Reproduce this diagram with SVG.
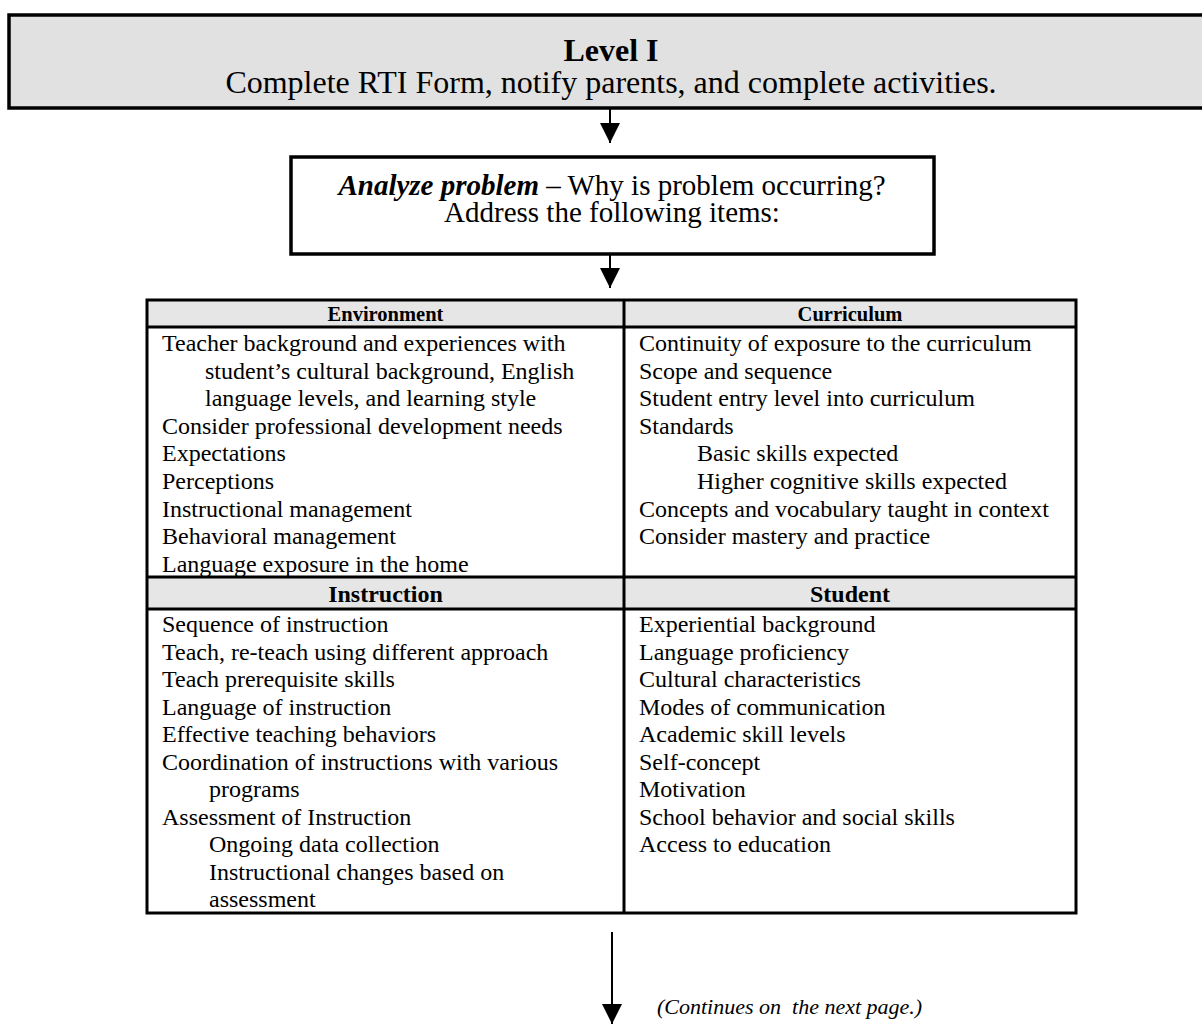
<svg xmlns="http://www.w3.org/2000/svg" width="1202" height="1024" viewBox="0 0 1202 1024">
  <style>
    text { font-family: "Liberation Serif", "Times New Roman", serif; fill: #000; }
    .big { font-size: 32px; }
    .mid { font-size: 29px; }
    .item { font-size: 24px; }
    .hd1 { font-size: 20.5px; font-weight: bold; }
    .hd2 { font-size: 24px; font-weight: bold; }
    .box { stroke: #000; stroke-width: 3.5; }
    .grid { stroke: #000; stroke-width: 3; fill: none; }
    .shade { fill: #e6e6e6; }
    .wire { stroke: #000; stroke-width: 2; fill: none; }
    .note { font-size: 22px; font-style: italic; white-space: pre; }
  </style>
  <defs>
    <marker id="head" markerUnits="userSpaceOnUse" viewBox="0 0 20 20" refX="20" refY="10" markerWidth="20" markerHeight="20" orient="auto">
      <path d="M0,0 L20,10 L0,20 Z" fill="#000"/>
    </marker>
  </defs>
  <rect width="1202" height="1024" fill="#fff"/>

  <!-- Level I banner -->
  <g id="node-level1">
    <rect class="box" x="9" y="15" width="1210" height="93" fill="#e1e1e1"/>
    <text class="big" x="611" y="61" text-anchor="middle" font-weight="bold">Level I</text>
    <text class="big" x="611" y="93" text-anchor="middle">Complete RTI Form, notify parents, and complete activities.</text>
  </g>

  <!-- Analyze problem box -->
  <g id="node-analyze">
    <rect class="box" x="291" y="157" width="643" height="97" fill="#fff"/>
    <text class="mid" x="612" y="195" text-anchor="middle"><tspan font-weight="bold" font-style="italic">Analyze problem</tspan> – Why is problem occurring?</text>
    <text class="mid" x="612" y="222" text-anchor="middle">Address the following items:</text>
  </g>

  <!-- Four-part checklist table -->
  <g id="node-table">
    <rect class="shade" x="147" y="300" width="929" height="27"/>
    <rect class="shade" x="147" y="577" width="929" height="32"/>
    <rect class="grid" x="147" y="300" width="929" height="613"/>
    <line class="grid" x1="624" y1="300" x2="624" y2="913"/>
    <line class="grid" x1="147" y1="327" x2="1076" y2="327"/>
    <line class="grid" x1="147" y1="577" x2="1076" y2="577"/>
    <line class="grid" x1="147" y1="609" x2="1076" y2="609"/>

    <g id="cell-environment">
      <text class="hd1" x="385.5" y="321" text-anchor="middle">Environment</text>
      <text class="item" x="162" y="351">Teacher background and experiences with</text>
      <text class="item" x="205" y="378.6">student’s cultural background, English</text>
      <text class="item" x="205" y="406.2">language levels, and learning style</text>
      <text class="item" x="162" y="433.8">Consider professional development needs</text>
      <text class="item" x="162" y="461.4">Expectations</text>
      <text class="item" x="162" y="489">Perceptions</text>
      <text class="item" x="162" y="516.6">Instructional management</text>
      <text class="item" x="162" y="544.2">Behavioral management</text>
      <text class="item" x="162" y="571.8">Language exposure in the home</text>
    </g>

    <g id="cell-curriculum">
      <text class="hd1" x="850" y="321" text-anchor="middle">Curriculum</text>
      <text class="item" x="639" y="351">Continuity of exposure to the curriculum</text>
      <text class="item" x="639" y="378.6">Scope and sequence</text>
      <text class="item" x="639" y="406.2">Student entry level into curriculum</text>
      <text class="item" x="639" y="433.8">Standards</text>
      <text class="item" x="697" y="461.4">Basic skills expected</text>
      <text class="item" x="697" y="489">Higher cognitive skills expected</text>
      <text class="item" x="639" y="516.6">Concepts and vocabulary taught in context</text>
      <text class="item" x="639" y="544.2">Consider mastery and practice</text>
    </g>

    <g id="cell-instruction">
      <text class="hd2" x="385.5" y="602" text-anchor="middle">Instruction</text>
      <text class="item" x="162" y="632">Sequence of instruction</text>
      <text class="item" x="162" y="659.5">Teach, re-teach using different approach</text>
      <text class="item" x="162" y="687">Teach prerequisite skills</text>
      <text class="item" x="162" y="714.5">Language of instruction</text>
      <text class="item" x="162" y="742">Effective teaching behaviors</text>
      <text class="item" x="162" y="769.5">Coordination of instructions with various</text>
      <text class="item" x="209" y="797">programs</text>
      <text class="item" x="162" y="824.5">Assessment of Instruction</text>
      <text class="item" x="209" y="852">Ongoing data collection</text>
      <text class="item" x="209" y="879.5">Instructional changes based on</text>
      <text class="item" x="209" y="907">assessment</text>
    </g>

    <g id="cell-student">
      <text class="hd2" x="850" y="602" text-anchor="middle">Student</text>
      <text class="item" x="639" y="632">Experiential background</text>
      <text class="item" x="639" y="659.5">Language proficiency</text>
      <text class="item" x="639" y="687">Cultural characteristics</text>
      <text class="item" x="639" y="714.5">Modes of communication</text>
      <text class="item" x="639" y="742">Academic skill levels</text>
      <text class="item" x="639" y="769.5">Self-concept</text>
      <text class="item" x="639" y="797">Motivation</text>
      <text class="item" x="639" y="824.5">School behavior and social skills</text>
      <text class="item" x="639" y="852">Access to education</text>
    </g>
  </g>

  <!-- Continuation note -->
  <g id="node-continue">
    <text class="note" x="657" y="1014">(Continues on  the next page.)</text>
  </g>

  <!-- Connectors -->
  <g id="connectors">
    <line class="wire" x1="610" y1="109" x2="610" y2="143" marker-end="url(#head)"/>
    <line class="wire" x1="610" y1="255" x2="610" y2="288" marker-end="url(#head)"/>
    <line class="wire" x1="612" y1="932" x2="612" y2="1024" marker-end="url(#head)"/>
  </g>
</svg>
